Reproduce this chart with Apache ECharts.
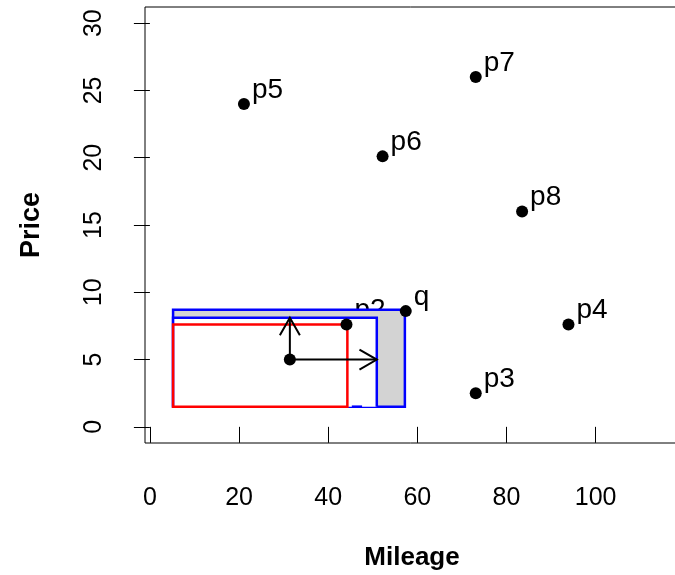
<!DOCTYPE html>
<html>
<head>
<meta charset="utf-8">
<script src="https://cdn.jsdelivr.net/npm/echarts@6/dist/echarts.min.js"></script>
<style>
  html, body { margin: 0; padding: 0; background: #fff; }
  #chart { width: 675px; height: 575px; }
</style>
</head>
<body>
<div id="chart"></div>
<script>
// data
var pointNames = ['p2', 'p3', 'p4', 'p5', 'p6', 'p7', 'p8', 'q'];
var pointX = [44.1, 73.1, 93.9, 21.1, 52.2, 73.1, 83.5, 57.4];
var pointY = [7.6, 2.5, 7.6, 24.0, 20.1, 26.0, 16.0, 8.6];
var centerName = 'c1';
var centerXY = [31.4, 5.0];
// rectangles: [xmin, ymin, xmax, ymax]
var outerRect = [5.2, 1.5, 57.2, 8.7];
var innerRect = [5.2, 1.5, 50.9, 8.1];
var redRect = [5.2, 1.5, 44.3, 7.6];
var blueDash = [45.3, 47.6, 1.5];
// arrow tips from c1
var arrowTips = [[31.4, 8.1], [50.9, 5.0]];
var xTicks = [0, 20, 40, 60, 80, 100];
var yTicks = [0, 5, 10, 15, 20, 25, 30];

var chart = echarts.init(document.getElementById('chart'));

var labelData = [];
for (var i = 0; i < pointNames.length; i++) {
    labelData.push({ name: pointNames[i], value: [pointX[i], pointY[i]] });
}
labelData.push({ name: centerName, value: centerXY });

function rectShape(api, r) {
    var a = api.coord([r[0], r[3]]);
    var b = api.coord([r[2], r[1]]);
    return { x: a[0], y: a[1], width: b[0] - a[0], height: b[1] - a[1] };
}

// open V arrow head, like R's arrows()
function arrowHead(from, to, len) {
    var ang = Math.atan2(to[1] - from[1], to[0] - from[0]);
    var s = Math.PI / 6;
    return [
        [to[0] - len * Math.cos(ang - s), to[1] - len * Math.sin(ang - s)],
        to,
        [to[0] - len * Math.cos(ang + s), to[1] - len * Math.sin(ang + s)]
    ];
}

var option = {
    animation: false,
    backgroundColor: '#fff',
    grid: {
        left: 145, top: 7, width: 534, height: 436,
        outerBoundsMode: 'none',
        show: true, borderColor: '#000', borderWidth: 1
    },
    xAxis: {
        type: 'value', min: -1.1, max: 118.7,
        name: 'Mileage', nameLocation: 'middle', nameGap: 102,
        nameTextStyle: { fontFamily: 'Liberation Sans', fontSize: 26, fontWeight: 'bold', color: '#000' },
        splitLine: { show: false },
        axisLine: { show: false },
        axisTick: { show: true, length: 16, customValues: xTicks, lineStyle: { color: '#000' } },
        axisLabel: { customValues: xTicks, margin: 43, fontFamily: 'Liberation Sans', fontSize: 25, color: '#000' }
    },
    yAxis: {
        type: 'value', min: -1.2, max: 31.2,
        name: 'Price', nameLocation: 'middle', nameGap: 100,
        nameTextStyle: { fontFamily: 'Liberation Sans', fontSize: 27, fontWeight: 'bold', color: '#000' },
        splitLine: { show: false },
        axisLine: { show: false },
        axisTick: { show: true, length: 16, customValues: yTicks, lineStyle: { color: '#000' } },
        axisLabel: { customValues: yTicks, rotate: 90, margin: 38, fontFamily: 'Liberation Sans', fontSize: 25, color: '#000' }
    },
    series: [
        {
            // labels only, drawn under the rectangles
            type: 'scatter', z: 1, symbolSize: 0, data: labelData,
            itemStyle: { opacity: 1 },
            label: {
                show: true, position: 'right', distance: 8, offset: [0, -14],
                formatter: '{b}', fontFamily: 'Liberation Sans', fontSize: 28, color: '#000'
            }
        },
        {
            type: 'custom', z: 3, data: [0],
            renderItem: function (params, api) {
                var lo = api.coord([blueDash[0], blueDash[2]]);
                var hi = api.coord([blueDash[1], blueDash[2]]);
                return {
                    type: 'group',
                    children: [
                        { type: 'rect', shape: rectShape(api, outerRect), style: { fill: '#d3d3d3', stroke: '#0000ff', lineWidth: 2.5 } },
                        { type: 'rect', shape: rectShape(api, innerRect), style: { fill: '#fff', stroke: null } },
                        { type: 'polyline', shape: { points: [api.coord([innerRect[0], innerRect[1]]), api.coord([innerRect[0], innerRect[3]]), api.coord([innerRect[2], innerRect[3]]), api.coord([innerRect[2], innerRect[1]])] }, style: { fill: null, stroke: '#0000ff', lineWidth: 2.5 } },
                        { type: 'line', shape: { x1: lo[0], y1: lo[1], x2: hi[0], y2: hi[1] }, style: { stroke: '#0000ff', lineWidth: 2.5 } },
                        { type: 'rect', shape: rectShape(api, redRect), style: { fill: null, stroke: '#ff0000', lineWidth: 2.5 } }
                    ]
                };
            }
        },
        {
            type: 'scatter', z: 5, symbolSize: 12, data: labelData,
            itemStyle: { color: '#000', opacity: 1 }
        },
        {
            type: 'custom', z: 6, data: arrowTips,
            renderItem: function (params, api) {
                var from = api.coord(centerXY);
                var to = api.coord([api.value(0), api.value(1)]);
                return {
                    type: 'group',
                    children: [
                        { type: 'line', shape: { x1: from[0], y1: from[1], x2: to[0], y2: to[1] }, style: { stroke: '#000', lineWidth: 2 } },
                        { type: 'polyline', shape: { points: arrowHead(from, to, 20) }, style: { fill: null, stroke: '#000', lineWidth: 2 } }
                    ]
                };
            }
        }
    ]
};

chart.setOption(option);
</script>
</body>
</html>
